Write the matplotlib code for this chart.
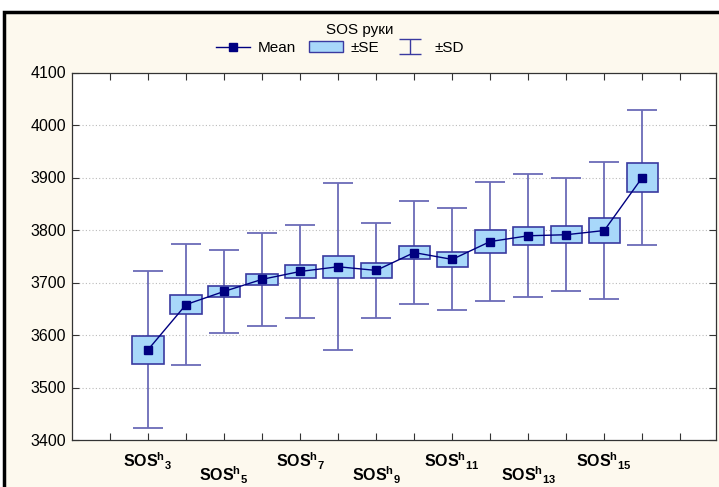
import matplotlib
matplotlib.use("Agg")
import matplotlib.pyplot as plt
from matplotlib.lines import Line2D
from matplotlib.patches import Patch, Rectangle
import matplotlib.transforms as mtransforms

plt.rcParams['font.family'] = ['Liberation Sans', 'DejaVu Sans']
plt.rcParams['mathtext.fontset'] = 'custom'
plt.rcParams['mathtext.rm'] = 'Liberation Sans'
plt.rcParams['mathtext.bf'] = 'Liberation Sans:bold'

# ---- data ----
categories = [3, 4, 5, 6, 7, 8, 9, 10, 11, 12, 13, 14, 15, 16]
means = [3572, 3658, 3683, 3706, 3721, 3730, 3723, 3757, 3744, 3778, 3789, 3791, 3799, 3900]
se = [27, 18, 10, 11, 12, 21, 14.5, 13, 14, 22, 17, 16, 23.5, 27]
sd = [150, 115, 79, 89, 89, 159, 91, 98, 97, 113, 117, 108, 131, 129]
labeled = [3, 5, 7, 9, 11, 13, 15]
title = "SOS руки"
yticks = [3400, 3500, 3600, 3700, 3800, 3900, 4000, 4100]

W, H = 719, 487
fig = plt.figure(figsize=(W / 100, H / 100), dpi=100, facecolor='white')

# cream panel with black frame
fig.patches.append(Rectangle((4 / W, -0.02), 1.0, 1.02 - 12 / H, transform=fig.transFigure,
                             facecolor='#FDF9EE', edgecolor='black', linewidth=2.5, zorder=-10))

ax = fig.add_axes([72 / W, 1 - 440 / H, (716 - 72) / W, (440 - 72.5) / H])
ax.set_zorder(1)
ax.set_facecolor('white')

xs = [c - 1 for c in categories]
box_fill = '#A8D8FA'
box_edge = '#3A3AA0'
whisk = '#6B6BB8'
navy = '#000080'

ax.errorbar(xs, means, yerr=sd, fmt='none', ecolor=whisk, elinewidth=1.3,
            capsize=10.5, capthick=1.3, zorder=2)
ax.bar(xs, [2 * s for s in se], bottom=[m - s for m, s in zip(means, se)], width=0.82,
       color=box_fill, edgecolor=box_edge, linewidth=1.2, zorder=3)
ax.plot(xs, means, color=navy, linewidth=1.0, marker='s', markersize=6.3,
        markerfacecolor=navy, markeredgecolor=navy, zorder=4)

ax.set_xlim(0, 16.94)
ax.set_ylim(3400, 4100)
ax.set_yticks(yticks)
ax.set_yticklabels([str(v) for v in yticks], fontsize=11.5)
ax.set_xticks(list(range(1, 17)))
ax.set_xticklabels([])
ax.tick_params(axis='both', direction='in', length=5, width=0.8, color='#333333',
               top=True, right=True, pad=4)
for v in yticks[1:-1]:
    ax.axhline(v, color='#BBBBBB', linestyle=(0, (1, 2)), linewidth=0.8, zorder=1)
for sp in ax.spines.values():
    sp.set_color('#333333')
    sp.set_linewidth(0.9)

trans = mtransforms.blended_transform_factory(ax.transData, fig.transFigure)
for i, c in enumerate(labeled):
    y = 1 - 461 / H if i % 2 == 0 else 1 - 475 / H
    ax.text(c - 1, y, r'$\mathbf{SOS^{h}{}_{%d}}$' % c, transform=trans,
            ha='center', va='center', fontsize=11.5, clip_on=False)

fig.text(360 / W, 1 - 30 / H, title, ha='center', va='center', fontsize=11)

h_mean = Line2D([0], [0], color=navy, marker='s', markersize=6, linewidth=1.0)
h_se = Patch(facecolor=box_fill, edgecolor=box_edge, linewidth=1.0)
eb = ax.errorbar([-10], [0], yerr=[1], fmt='none', ecolor=box_edge, elinewidth=1.0,
                 capsize=8, capthick=1.0)
leg = fig.legend([h_mean, h_se, eb], ['Mean', '±SE', '±SD'], loc='center',
                 bbox_to_anchor=(340 / W, 1 - 48 / H), ncol=3, frameon=False,
                 fontsize=11, handlelength=2.2, handletextpad=0.5, columnspacing=0.9)

fig.savefig('out.png', dpi=100, facecolor=fig.get_facecolor())
